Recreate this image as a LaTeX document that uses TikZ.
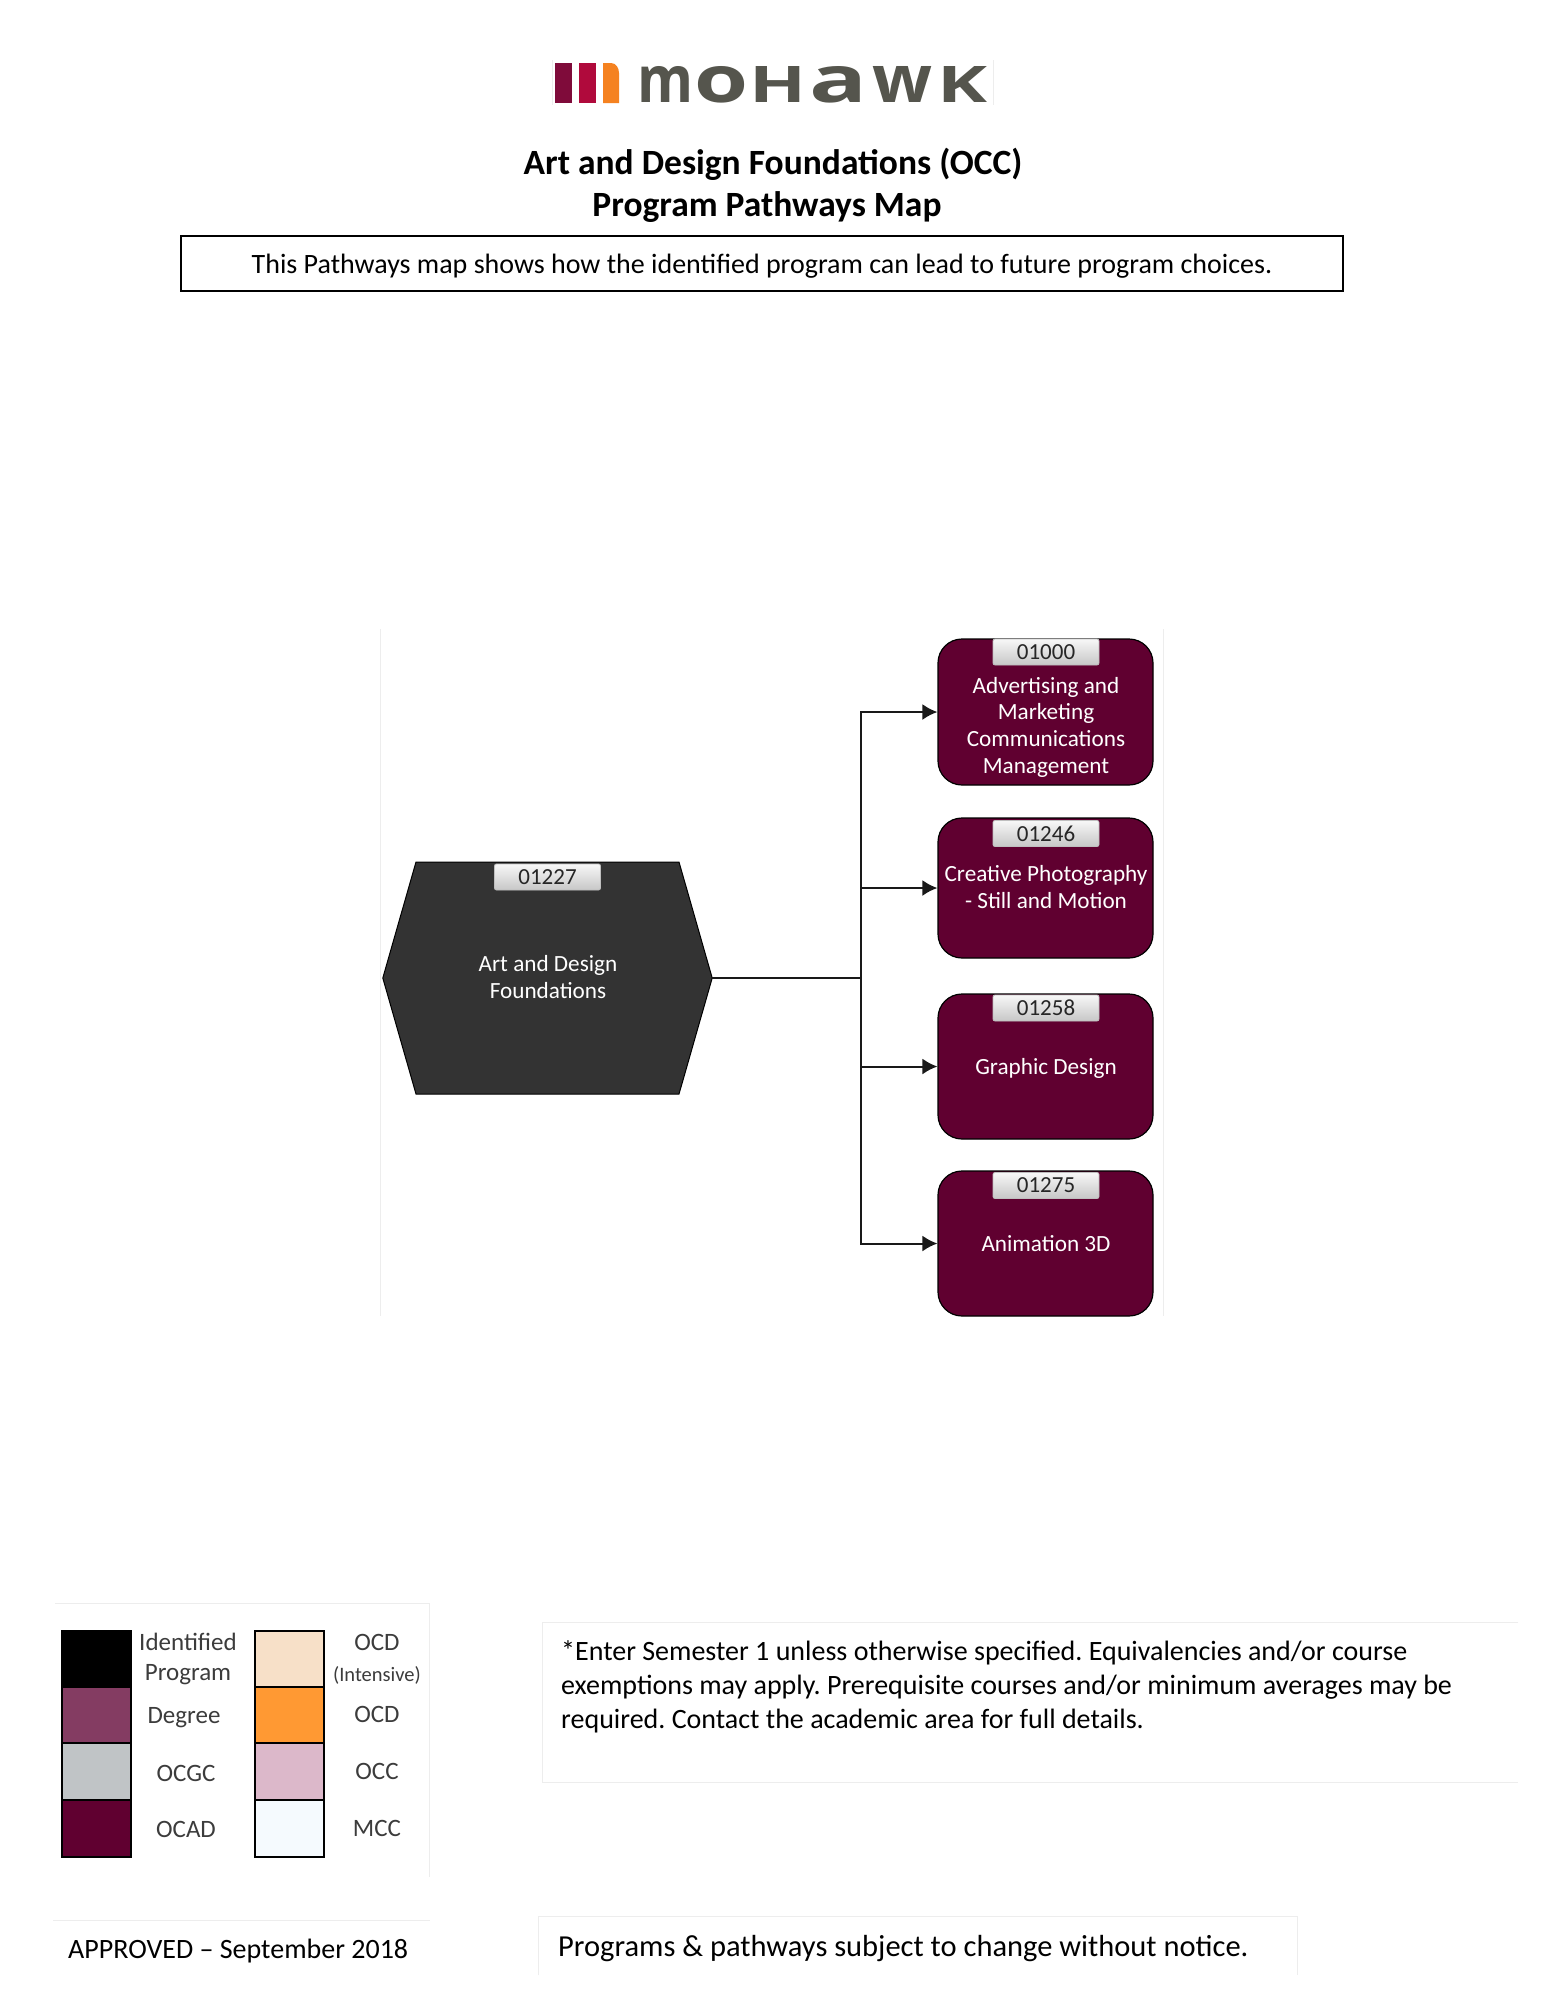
\documentclass[tikz,border=0pt]{standalone}
\usepackage{fontspec}
\usepackage{graphicx}
\setmainfont{Carlito}
\newfontfamily\logofont{Open Sans}
\usetikzlibrary{arrows.meta}
\frenchspacing
\definecolor{wine}{HTML}{600030}
\definecolor{hexgrey}{HTML}{333333}
\definecolor{logogrey}{HTML}{55554D}
\definecolor{faint}{HTML}{EDEDED}
\definecolor{txtgrey}{HTML}{3C3C3C}
\definecolor{barone}{HTML}{7F0B3A}
\definecolor{bartwo}{HTML}{B00A3C}
\definecolor{barthree}{HTML}{F58220}
\definecolor{swdegree}{HTML}{843C62}
\definecolor{swocgc}{HTML}{C0C4C6}
\definecolor{swintensive}{HTML}{F7E0C8}
\definecolor{swocd}{HTML}{FF9933}
\definecolor{swocc}{HTML}{DCB8CA}
\definecolor{swmcc}{HTML}{F5FAFE}
\newcommand{\fsz}[1]{\fontsize{#1}{#1}\selectfont}
\newcommand{\logoglyph}[2]{\resizebox{#1pt}{36pt}{#2}}
\tikzset{
  x=1pt,y=-1pt,
  prog/.style={draw=black,line width=1.2pt,fill=wine,rounded corners=24pt,minimum width=215pt,inner sep=0pt},
  idtag/.style={draw=black!25,line width=0.8pt,top color=black!3,bottom color=black!22,rounded corners=2pt,minimum width=106pt,minimum height=26pt,inner sep=0pt,font=\fsz{23},text=black!85},
  progtxt/.style={text=white,align=center,font=\fsz{23.2},inner sep=0pt},
  conn/.style={draw=black!90,line width=2pt},
  arr/.style={conn,-{Latex[length=15pt,width=16pt]}},
  swatch/.style={draw=black,line width=1.6pt,minimum width=69pt,inner sep=0pt},
  legtxt/.style={text=txtgrey,font=\fsz{25},inner sep=0pt,align=center},
  note/.style={font=\fsz{28},inner sep=0pt,anchor=west,text=black},
  logobar/.style={fill=#1,draw=none,minimum width=17pt,minimum height=40pt,inner sep=0pt},
  framing/.style={draw=faint,line width=1pt},
}
\begin{document}
\begin{tikzpicture}
\useasboundingbox (0,0) rectangle (1546,2000);
\fill[white] (0,0) rectangle (1546,2000);

% logo
\draw[framing] (552,60) -- (552,105) (993,60) -- (993,105);
\node[logobar=barone] (bar1) at (563.5,83) {};
\node[logobar=bartwo] (bar2) at (587,83) {};
\fill[barthree] (603,103) -- (603,63) -- (611,63) to[out=0,in=90] (619,73) -- (619,103) -- cycle;
\node[text=logogrey,inner sep=0pt,anchor=west] (logo) at (637,85)
  {\logofont\bfseries\logoglyph{56}{m}\hspace{1pt}\logoglyph{54}{o}\hspace{1pt}\logoglyph{57}{H}\hspace{3pt}\logoglyph{58}{a}\hspace{5pt}\logoglyph{60}{w}\hspace{5pt}\logoglyph{50}{K}};

% titles
\node[font=\fsz{35.5}\bfseries,inner sep=0pt] (t1) at (773,164) {Art and Design Foundations (OCC)};
\node[font=\fsz{35.5}\bfseries,inner sep=0pt] (t2) at (767,207) {Program Pathways Map};
\node[draw=black,line width=1.8pt,minimum width=1162pt,minimum height=55pt,inner sep=0pt,font=\fsz{28}] (hdr) at (762,263.5)
  {\raisebox{-10pt}[0pt][0pt]{This Pathways map shows how the identified program can lead to future program choices.}};

% diagram frame
\draw[framing] (380,629) -- (380,1316) (1163,629) -- (1163,1316);

% hexagon
\node[minimum width=329pt,minimum height=232pt,inner sep=0pt] (hex) at (547.5,978) {};
\fill[hexgrey,draw=black,line width=1pt] (hex.west) -- (416,862) -- (679,862) -- (hex.east) -- (679,1094) -- (416,1094) -- cycle;
\node[idtag] (idh) at (547.5,877) {01227};
\node[progtxt] (hext) at (548,977) {Art and Design\\[3.5pt]Foundations};

% programmes
\node[prog,minimum height=146pt] (b1) at (1045.5,712) {};
\node[prog,minimum height=140pt] (b2) at (1045.5,888) {};
\node[prog,minimum height=145pt] (b3) at (1045.5,1066.5) {};
\node[prog,minimum height=145pt] (b4) at (1045.5,1243.5) {};
\node[idtag] (id1) at (1046,652) {01000};
\node[idtag] (id2) at (1046,833.5) {01246};
\node[idtag] (id3) at (1046,1008) {01258};
\node[idtag] (id4) at (1046,1185.5) {01275};
\node[progtxt] (t1a) at (1046,727) {Advertising and\\[3.5pt]Marketing\\[3.5pt]Communications\\[3.5pt]Management};
\node[progtxt] (t2a) at (1046,887) {Creative Photography\\[3.5pt]- Still and Motion};
\node[progtxt] (t3a) at (1046,1068) {Graphic Design};
\node[progtxt] (t4a) at (1046,1244) {Animation 3D};

% connectors
\coordinate (tr) at (861,978);
\draw[conn] (hex.east) -- (tr);
\draw[arr] (tr) |- (b1.west);
\draw[arr] (tr) |- (b2.west);
\draw[arr] (tr) |- (b3.west);
\draw[arr] (tr) |- (b4.west);

% legend
\draw[framing] (55,1603) -- (429,1603) -- (429,1877);
\node[swatch,fill=black,minimum height=56pt] (s1) at (96.5,1659) {};
\node[swatch,fill=swdegree,minimum height=56pt] (s2) at (96.5,1715) {};
\node[swatch,fill=swocgc,minimum height=57pt] (s3) at (96.5,1771.5) {};
\node[swatch,fill=wine,minimum height=57pt] (s4) at (96.5,1828.5) {};
\node[swatch,fill=swintensive,minimum height=56pt] (s5) at (289.5,1659) {};
\node[swatch,fill=swocd,minimum height=56pt] (s6) at (289.5,1715) {};
\node[swatch,fill=swocc,minimum height=57pt] (s7) at (289.5,1771.5) {};
\node[swatch,fill=swmcc,minimum height=57pt] (s8) at (289.5,1828.5) {};
\node[legtxt] (l1) at (188,1642) {Identified};
\node[legtxt] (l1b) at (188,1675) {Program};
\node[legtxt] (l2) at (184,1718) {Degree};
\node[legtxt] (l3) at (186,1773) {OCGC};
\node[legtxt] (l4) at (186,1829) {OCAD};
\node[legtxt] (r1) at (377,1642) {OCD};
\node[legtxt,font=\fsz{20.5}] (r1b) at (377,1675) {(Intensive)};
\node[legtxt] (r2) at (377,1714) {OCD};
\node[legtxt] (r3) at (377,1771) {OCC};
\node[legtxt] (r4) at (377,1828) {MCC};

% notes
\draw[framing] (1518,1622) -- (542,1622) -- (542,1782) -- (1518,1782);
\node[note] (n1) at (561,1653) {*Enter Semester 1 unless otherwise specified. Equivalencies and/or course};
\node[note] (n2) at (561,1687) {exemptions may apply. Prerequisite courses and/or minimum averages may be};
\node[note] (n3) at (561,1721) {required. Contact the academic area for full details.};
\draw[framing] (53,1920) -- (430,1920);
\node[note] (ap) at (68,1951) {APPROVED – September 2018};
\draw[framing] (538,1975) -- (538,1916) -- (1297,1916) -- (1297,1975);
\node[note,font=\fsz{30.5}] (pr) at (558,1949) {Programs \& pathways subject to change without notice.};
\end{tikzpicture}
\end{document}
